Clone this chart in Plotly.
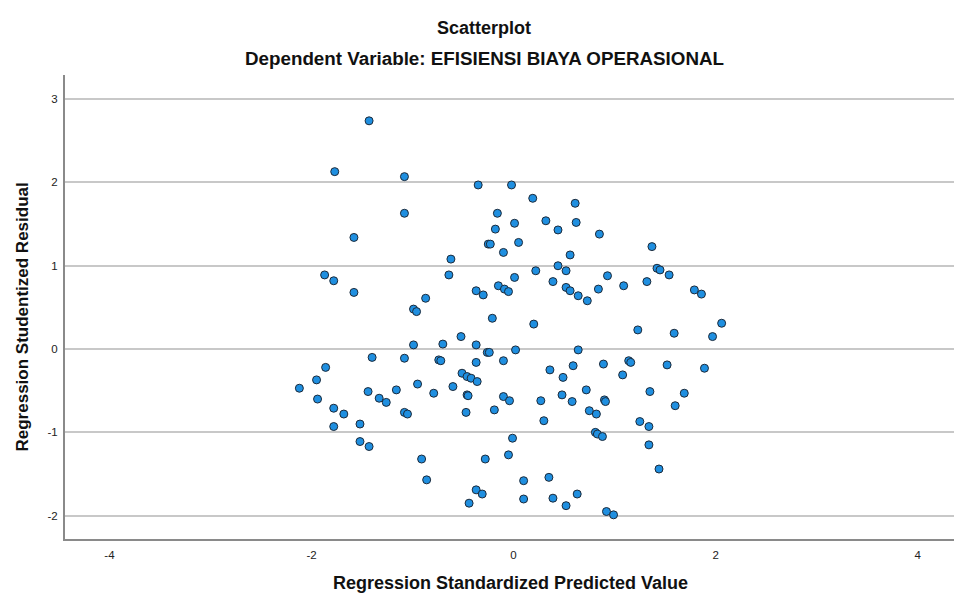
import plotly.graph_objects as go

# Regression Standardized Predicted Value (x) and Studentized Residual (y)
predicted = [
    -1.43, -1.77, -1.08, -0.35, -0.02, -1.08, -0.16, -0.18, 0.01, -1.58,
    -0.25, -0.23, -0.10, 0.05, -0.62, -1.87, -1.78, -0.64, 0.01, -0.15,
    -0.09, -0.05, -0.37, -0.30, -1.58, -0.87, -0.99, -0.96, -0.21, -0.52,
    -0.99, -0.70, -0.37, -0.26, -0.24, 0.02, -1.40, -1.08, -0.74, -0.72,
    -0.37, -0.10, -1.86, -1.95, -2.12, -1.94, -1.44, -1.33, -1.26, -1.16,
    -0.95, -0.79, -0.60, -0.51, -0.46, -0.42, -0.36, -0.46, -0.45, -0.47,
    -0.10, -0.04, -0.19, -1.78, -1.68, -1.78, -1.52, -1.08, -1.05, -1.52,
    -1.43, -0.01, -0.05, -0.91, -0.28, -0.86, -0.37, -0.31, -0.44, 0.39,
    0.52, 0.56, 0.64, 0.73, 0.84, 1.09, 1.32, 1.79, 1.86, 0.20,
    1.23, 1.59, 1.97, 2.06, 0.64, 0.36, 0.49, 0.59, 0.89, 1.14,
    1.16, 1.08, 1.52, 1.89, 0.27, 0.30, 0.48, 0.58, 0.72, 0.75,
    0.82, 0.90, 0.91, 0.81, 0.83, 0.88, 1.35, 1.69, 1.60, 1.25,
    1.34, 1.34, 1.44, 0.10, 0.10, 0.35, 0.39, 0.52, 0.63, 0.92,
    0.99, 0.19, 0.61, 0.32, 0.62, 0.44, 0.85, 0.56, 1.37, 1.42,
    1.45, 1.54, 0.22, 0.44, 0.52, 0.93,
]
residual = [
    2.74, 2.13, 2.07, 1.97, 1.97, 1.63, 1.63, 1.44, 1.51, 1.34,
    1.26, 1.26, 1.16, 1.28, 1.08, 0.89, 0.82, 0.89, 0.86, 0.76,
    0.72, 0.69, 0.70, 0.65, 0.68, 0.61, 0.48, 0.45, 0.37, 0.15,
    0.05, 0.06, 0.05, -0.04, -0.04, -0.01, -0.10, -0.11, -0.13, -0.14,
    -0.16, -0.14, -0.22, -0.37, -0.47, -0.60, -0.51, -0.59, -0.64, -0.49,
    -0.42, -0.53, -0.45, -0.29, -0.33, -0.35, -0.39, -0.55, -0.56, -0.76,
    -0.57, -0.62, -0.73, -0.71, -0.78, -0.93, -0.90, -0.76, -0.78, -1.11,
    -1.17, -1.07, -1.27, -1.32, -1.32, -1.57, -1.69, -1.74, -1.85, 0.81,
    0.74, 0.70, 0.64, 0.58, 0.72, 0.76, 0.81, 0.71, 0.66, 0.30,
    0.23, 0.19, 0.15, 0.31, -0.01, -0.25, -0.34, -0.20, -0.18, -0.14,
    -0.16, -0.31, -0.19, -0.23, -0.62, -0.86, -0.55, -0.63, -0.49, -0.74,
    -0.78, -0.61, -0.63, -1.00, -1.02, -1.05, -0.51, -0.53, -0.68, -0.87,
    -0.93, -1.15, -1.44, -1.58, -1.80, -1.54, -1.79, -1.88, -1.74, -1.95,
    -1.99, 1.81, 1.75, 1.54, 1.52, 1.43, 1.38, 1.13, 1.23, 0.97,
    0.95, 0.89, 0.94, 1.00, 0.94, 0.88,
]

x_ticks = [-4, -2, 0, 2, 4]
y_ticks = [-2, -1, 0, 1, 2, 3]

title_text = "Scatterplot"
subtitle_text = "Dependent Variable: EFISIENSI BIAYA OPERASIONAL"
x_title = "Regression Standardized Predicted Value"
y_title = "Regression Studentized Residual"

FONT = "Liberation Sans, Arial, sans-serif"

W, H = 954, 601
L, R, T, B = 65, 0, 75, 62  # plot area: x 65..954, y 75..539
plot_w = W - L - R
plot_h = H - T - B


def px_x(px):
    return (px - L) / plot_w


def px_y(py):
    return (H - B - py) / plot_h


fig = go.Figure()
fig.add_trace(go.Scatter(
    x=predicted, y=residual, mode="markers",
    marker=dict(size=8, color="#1f8fe0",
                line=dict(color="#1c2a3a", width=1)),
    hoverinfo="skip", showlegend=False,
))

fig.update_layout(
    width=W, height=H,
    margin=dict(l=L, r=R, t=T, b=B, autoexpand=False),
    paper_bgcolor="white", plot_bgcolor="white",
    font=dict(family=FONT, color="#222222"),
    xaxis=dict(
        range=[-4.44, 4.36], tickvals=x_ticks,
        ticktext=[str(v) for v in x_ticks],
        showgrid=False, zeroline=False, automargin=False,
        showline=True, linecolor="#8a8a8a", linewidth=2,
        ticks="", tickfont=dict(size=11.5, family=FONT, color="#222222"),
        ticklabelstandoff=4,
    ),
    yaxis=dict(
        range=[-2.28, 3.29], tickvals=y_ticks,
        ticktext=[str(v) for v in y_ticks],
        showgrid=True, gridcolor="#c8c8c8", gridwidth=1.5,
        zeroline=False, automargin=False,
        showline=True, linecolor="#8a8a8a", linewidth=2,
        ticks="", tickfont=dict(size=11.5, family=FONT, color="#222222"),
        ticklabelstandoff=3,
    ),
    annotations=[
        dict(text="<b>" + title_text + "</b>", xref="paper", yref="paper",
             x=px_x(484), y=px_y(28), showarrow=False,
             xanchor="center", yanchor="middle",
             font=dict(size=18, family=FONT, color="#111111")),
        dict(text="<b>" + subtitle_text + "</b>", xref="paper", yref="paper",
             x=px_x(484), y=px_y(58), showarrow=False,
             xanchor="center", yanchor="middle",
             font=dict(size=18.8, family=FONT, color="#111111")),
        dict(text="<b>" + x_title + "</b>", xref="paper", yref="paper",
             x=px_x(510), y=px_y(583), showarrow=False,
             xanchor="center", yanchor="middle",
             font=dict(size=18, family=FONT, color="#111111")),
        dict(text="<b>" + y_title + "</b>", xref="paper", yref="paper",
             x=px_x(21.5), y=px_y(317), showarrow=False, textangle=-90,
             xanchor="center", yanchor="middle",
             font=dict(size=17, family=FONT, color="#111111")),
    ],
)

fig.write_html(
    "out.html",
    config={"displayModeBar": False},
    post_script="document.body.style.margin='0';document.body.style.overflow='hidden';",
)
